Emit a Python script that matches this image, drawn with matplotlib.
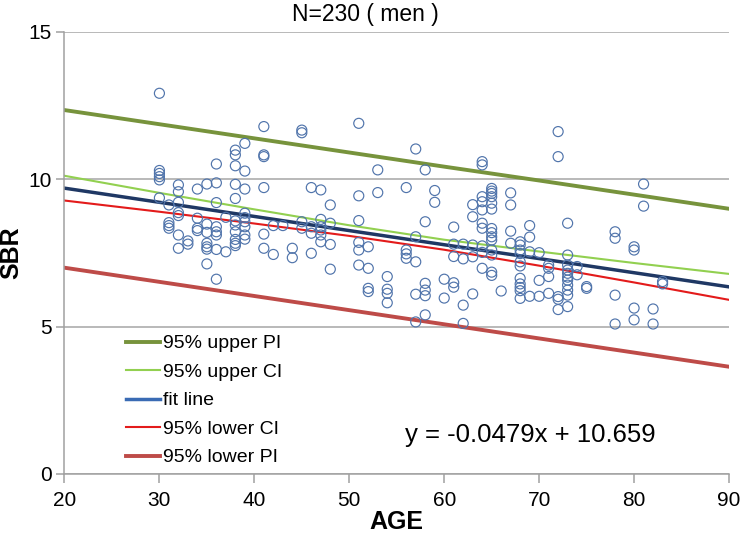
import matplotlib.pyplot as plt

plt.rcParams['font.family'] = ['Liberation Sans', 'DejaVu Sans']

# scatter points (age, SBR)
AGE = (
    [30] * 6 + [31] * 4 + [32] * 7 + [33] * 2 + [34] * 4 + [35] * 7 + [36] * 8
    + [37] * 2 + [38] * 11 + [39] * 9 + [41] * 6 + [42] * 2 + [43] * 1 + [44] * 2
    + [45] * 4 + [46] * 4 + [47] * 6 + [48] * 4 + [51] * 6 + [52] * 4 + [53] * 2
    + [54] * 4 + [56] * 4 + [57] * 5 + [58] * 6 + [59] * 2 + [60] * 2 + [61] * 5
    + [62] * 4 + [63] * 5 + [64] * 10 + [65] * 14 + [66] * 1 + [67] * 4 + [68] * 11
    + [69] * 4 + [70] * 3 + [71] * 4 + [72] * 5 + [73] * 11 + [74] * 2 + [75] * 2
    + [78] * 4 + [80] * 4 + [81] * 2 + [82] * 2 + [83] * 2
)
SBR = [
    12.92, 10.30, 10.20, 10.09, 9.98, 9.37,
    9.13, 8.53, 8.43, 8.34,
    9.81, 9.58, 9.22, 8.87, 8.77, 8.11, 7.66,
    7.91, 7.80,
    9.67, 8.68, 8.34, 8.26,
    9.84, 8.48, 8.20, 7.83, 7.71, 7.63, 7.13,
    10.52, 9.88, 9.21, 8.39, 8.22, 8.11, 7.62, 6.61,
    8.71, 7.54,
    10.99, 10.83, 10.46, 9.83, 9.35, 8.59, 8.45, 8.22, 7.96, 7.83, 7.75,
    11.22, 10.28, 9.67, 8.85, 8.70, 8.56, 8.39, 8.11, 7.97,
    11.79, 10.83, 10.77, 9.72, 8.14, 7.66,
    8.43, 7.45,
    8.43,
    7.66, 7.34,
    11.67, 11.58, 8.56, 8.34,
    9.72, 8.39, 8.17, 7.49,
    9.64, 8.64, 8.39, 8.28, 8.11, 7.88,
    9.13, 8.51, 7.79, 6.95,
    11.90, 9.44, 8.60, 7.86, 7.60, 7.09,
    7.71, 6.98, 6.30, 6.19,
    10.32, 9.55,
    6.70, 6.27, 6.13, 5.81,
    9.72, 7.60, 7.47, 7.32,
    11.03, 8.05, 7.20, 6.10, 5.16,
    10.32, 8.56, 6.47, 6.24, 6.05, 5.40,
    9.62, 9.22,
    6.61, 5.97,
    8.38, 7.80, 7.38, 6.49, 6.34,
    7.80, 7.30, 5.73, 5.11,
    9.14, 8.73, 7.77, 7.37, 6.11,
    10.60, 10.49, 9.41, 9.24, 8.96, 8.51, 8.34, 7.74, 7.52, 6.98,
    9.69, 9.60, 9.52, 9.41, 9.19, 8.99, 8.33, 8.19, 8.05, 7.94, 7.60, 7.43, 6.85, 6.74,
    6.21,
    9.54, 9.13, 8.24, 7.83,
    7.88, 7.77, 7.60, 7.48, 7.20, 7.06, 6.64, 6.45, 6.33, 6.22, 5.96,
    8.43, 8.04, 7.54, 6.03,
    7.51, 6.57, 6.03,
    7.09, 6.98, 6.70, 6.13,
    11.62, 10.77, 6.02, 5.93, 5.58,
    8.51, 7.43, 7.09, 6.92, 6.81, 6.68, 6.58, 6.41, 6.24, 6.07, 5.68,
    7.04, 6.76,
    6.36, 6.30,
    8.22, 8.00, 6.07, 5.09,
    7.71, 7.60, 5.63, 5.23,
    9.84, 9.09,
    5.60, 5.09,
    6.53, 6.45,
]

# regression lines, read at these ages
LINE_X = [20, 30, 40, 50, 60, 70, 80, 90]
upper_pi = [12.35, 11.87, 11.39, 10.91, 10.43, 9.96, 9.48, 9.00]
upper_ci = [10.12, 9.54, 8.98, 8.44, 7.95, 7.55, 7.16, 6.79]
fit_line = [9.70, 9.22, 8.74, 8.26, 7.78, 7.31, 6.83, 6.35]
lower_ci = [9.28, 8.90, 8.50, 8.08, 7.61, 7.07, 6.50, 5.91]
lower_pi = [7.00, 6.52, 6.04, 5.56, 5.08, 4.60, 4.12, 3.64]

fig = plt.figure(figsize=(7.42, 5.34), dpi=100)
ax = fig.add_axes([0.0869, 0.1124, 0.8956, 0.8277])

ax.plot(LINE_X, upper_pi, color='#77933c', lw=2.8, label='95% upper PI', zorder=2)
ax.plot(LINE_X, upper_ci, color='#92d050', lw=1.5, label='95% upper CI', zorder=2)
ax.plot(LINE_X, fit_line, color='#1f3864', lw=2.5, label='fit line', zorder=2)
ax.plot(LINE_X, lower_ci, color='#e31b1b', lw=1.5, label='95% lower CI', zorder=2)
ax.plot(LINE_X, lower_pi, color='#be4b48', lw=2.8, label='95% lower PI', zorder=2)

ax.scatter(AGE, SBR, s=52, facecolors='none', edgecolors='#5074ab',
           linewidths=0.85, zorder=3)

ax.set_xlim(20, 90)
ax.set_ylim(0, 15)
ax.set_xticks(range(20, 91, 10))
ax.set_yticks([0, 5, 10, 15])
ax.yaxis.grid(True, color='#a6a6a6', lw=1.1)
ax.set_axisbelow(True)
for s in ['top', 'right']:
    ax.spines[s].set_visible(False)
for s in ['left', 'bottom']:
    ax.spines[s].set_color('#a0a0a0')
    ax.spines[s].set_linewidth(1.1)
ax.tick_params(axis='x', colors='#a0a0a0', labelcolor='black', length=6.5,
               width=1.1, pad=6, labelsize=15)
ax.tick_params(axis='y', colors='#a0a0a0', labelcolor='black', length=5.5,
               width=1.1, pad=3.5, labelsize=15)

ax.set_xlabel('AGE', fontsize=18, fontweight='bold')
ax.xaxis.set_label_coords(0.5, -0.109)
ax.xaxis.label.set_va('center')
ax.set_ylabel('SBR', fontsize=18, fontweight='bold')
ax.yaxis.set_label_coords(-0.0805, 0.5)
ax.yaxis.label.set_va('center')

fig.text(0.493, 1 - 15 / 534, 'N=230 ( men )', fontsize=16.5, ha='center', va='center')
ax.text(69.1, 1.33, 'y = -0.0479x + 10.659', fontsize=18.5, ha='center', va='center')

leg = ax.legend(loc='center left', bbox_to_anchor=(0.0926, 0.166), frameon=False,
                fontsize=14, handlelength=1.75, handletextpad=0.15,
                labelspacing=0.56, borderpad=0, borderaxespad=0)
leg.legend_handles[2].set_color('#3a6bb4')

fig.savefig('out.png', dpi=100)
